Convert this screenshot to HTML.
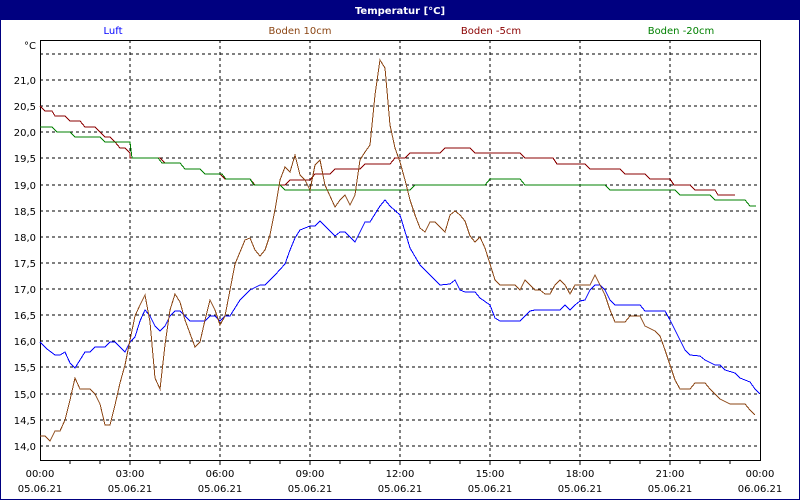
<!DOCTYPE html>
<html><head><meta charset="utf-8"><style>
body{margin:0;background:#fff}
svg{display:block;font-family:"DejaVu Sans","Liberation Sans",sans-serif;font-size:10px}
</style></head><body>
<svg width="800" height="500" xmlns="http://www.w3.org/2000/svg">
<rect x="0" y="0" width="800" height="500" fill="#fff"/>
<rect x="0.5" y="0.5" width="799" height="499" fill="none" stroke="#000080"/>
<rect x="0" y="0" width="800" height="20" fill="#000080"/>
<text x="400" y="14" fill="#fff" font-weight="bold" text-anchor="middle">Temperatur [°C]</text>
<g text-anchor="middle">
<text x="113" y="34" fill="#0000ff">Luft</text>
<text x="300" y="34" fill="#8b4513">Boden 10cm</text>
<text x="491" y="34" fill="#8b0000">Boden -5cm</text>
<text x="681" y="34" fill="#008000">Boden -20cm</text>
</g>
<g stroke="#000" stroke-dasharray="3,3" shape-rendering="crispEdges">
<line x1="40" x2="760" y1="54" y2="54"/><line x1="40" x2="760" y1="80" y2="80"/><line x1="40" x2="760" y1="106" y2="106"/><line x1="40" x2="760" y1="132" y2="132"/><line x1="40" x2="760" y1="158" y2="158"/><line x1="40" x2="760" y1="185" y2="185"/><line x1="40" x2="760" y1="211" y2="211"/><line x1="40" x2="760" y1="237" y2="237"/><line x1="40" x2="760" y1="263" y2="263"/><line x1="40" x2="760" y1="289" y2="289"/><line x1="40" x2="760" y1="315" y2="315"/><line x1="40" x2="760" y1="341" y2="341"/><line x1="40" x2="760" y1="367" y2="367"/><line x1="40" x2="760" y1="394" y2="394"/><line x1="40" x2="760" y1="420" y2="420"/><line x1="40" x2="760" y1="446" y2="446"/>
<line x1="130" x2="130" y1="40" y2="460"/><line x1="220" x2="220" y1="40" y2="460"/><line x1="310" x2="310" y1="40" y2="460"/><line x1="400" x2="400" y1="40" y2="460"/><line x1="490" x2="490" y1="40" y2="460"/><line x1="580" x2="580" y1="40" y2="460"/><line x1="670" x2="670" y1="40" y2="460"/>
</g>
<rect x="40.5" y="40.5" width="720" height="420" fill="none" stroke="#000" shape-rendering="crispEdges"/>
<g stroke="#000" shape-rendering="crispEdges">
<line x1="70" x2="70" y1="460" y2="464"/><line x1="100" x2="100" y1="460" y2="464"/><line x1="130" x2="130" y1="460" y2="465"/><line x1="160" x2="160" y1="460" y2="464"/><line x1="190" x2="190" y1="460" y2="464"/><line x1="220" x2="220" y1="460" y2="465"/><line x1="250" x2="250" y1="460" y2="464"/><line x1="280" x2="280" y1="460" y2="464"/><line x1="310" x2="310" y1="460" y2="465"/><line x1="340" x2="340" y1="460" y2="464"/><line x1="370" x2="370" y1="460" y2="464"/><line x1="400" x2="400" y1="460" y2="465"/><line x1="430" x2="430" y1="460" y2="464"/><line x1="460" x2="460" y1="460" y2="464"/><line x1="490" x2="490" y1="460" y2="465"/><line x1="520" x2="520" y1="460" y2="464"/><line x1="550" x2="550" y1="460" y2="464"/><line x1="580" x2="580" y1="460" y2="465"/><line x1="610" x2="610" y1="460" y2="464"/><line x1="640" x2="640" y1="460" y2="464"/><line x1="670" x2="670" y1="460" y2="465"/><line x1="700" x2="700" y1="460" y2="464"/><line x1="730" x2="730" y1="460" y2="464"/>
</g>
<g text-anchor="end">
<text x="36" y="49">°C</text>
<text x="36" y="84">21,0</text><text x="36" y="110">20,5</text><text x="36" y="136">20,0</text><text x="36" y="162">19,5</text><text x="36" y="189">19,0</text><text x="36" y="215">18,5</text><text x="36" y="241">18,0</text><text x="36" y="267">17,5</text><text x="36" y="293">17,0</text><text x="36" y="319">16,5</text><text x="36" y="345">16,0</text><text x="36" y="371">15,5</text><text x="36" y="398">15,0</text><text x="36" y="424">14,5</text><text x="36" y="450">14,0</text>
</g>
<g text-anchor="middle">
<text x="40" y="477">00:00</text><text x="130" y="477">03:00</text><text x="220" y="477">06:00</text><text x="310" y="477">09:00</text><text x="400" y="477">12:00</text><text x="490" y="477">15:00</text><text x="580" y="477">18:00</text><text x="670" y="477">21:00</text><text x="760" y="477">00:00</text>
<text x="40" y="492">05.06.21</text><text x="130" y="492">05.06.21</text><text x="220" y="492">05.06.21</text><text x="310" y="492">05.06.21</text><text x="400" y="492">05.06.21</text><text x="490" y="492">05.06.21</text><text x="580" y="492">05.06.21</text><text x="670" y="492">05.06.21</text><text x="760" y="492">06.06.21</text>
</g>
<g fill="none" stroke-width="1" shape-rendering="crispEdges">
<polyline stroke="#8b0000" points="40,106 45,111 52,111 55,116 65,116 70,121 80,121 85,127 95,127 100,132 105,137 110,137 115,142 120,148 125,148 130,153 130,158 160,158 165,163 180,163 185,169 200,169 205,174 220,174 225,179 250,179 255,185 280,185 285,185 290,180 310,180 315,174 330,174 335,169 360,169 365,164 390,164 395,158 405,158 410,153 440,153 445,148 470,148 475,153 520,153 525,158 553,158 557,164 585,164 590,169 620,169 625,174 645,174 650,179 670,179 674,185 690,185 695,190 715,190 718,195 735,195"/>
<polyline stroke="#008000" points="40,127 52,127 57,132 70,132 75,137 100,137 105,142 130,142 132,158 158,158 162,163 180,163 185,169 200,169 205,174 222,174 226,179 250,179 254,185 280,185 285,190 410,190 415,185 485,185 490,179 520,179 525,185 605,185 610,190 675,190 680,195 710,195 715,200 745,200 750,206 756,206"/>
<polyline stroke="#0000ff" points="40,342 47,349 55,355 60,355 65,352 70,363 75,368 80,360 85,352 90,352 95,347 105,347 110,342 115,342 120,347 125,352 130,342 135,337 140,321 145,310 150,316 155,326 160,331 165,326 170,316 175,311 180,311 185,316 190,321 205,321 210,316 215,316 220,321 225,316 230,316 240,300 250,290 260,285 265,285 275,275 285,264 290,250 295,238 300,230 310,226 315,226 320,221 325,226 335,236 340,232 345,232 355,242 365,222 370,222 380,206 385,200 390,206 400,215 410,248 420,265 430,275 440,285 450,284 455,280 460,290 465,292 475,292 480,298 490,305 495,318 500,321 520,321 525,316 530,311 535,310 560,310 565,305 570,310 575,305 580,301 585,300 590,290 595,285 600,285 605,290 610,300 615,305 640,305 645,311 665,311 670,320 675,330 680,340 685,350 690,355 700,356 705,360 715,365 720,365 725,370 735,373 740,378 750,382 755,389 760,394"/>
<polyline stroke="#8b4513" points="40,436 45,436 50,441 55,431 60,431 65,420 70,400 75,378 80,389 90,389 95,394 100,404 105,425 110,425 115,405 120,383 125,365 130,340 135,316 140,305 145,295 150,322 155,378 160,389 165,345 170,310 175,294 180,302 185,320 195,347 200,342 205,320 210,300 215,310 220,325 225,316 230,290 235,264 240,252 245,240 250,238 255,250 260,256 265,250 270,235 275,210 280,180 285,167 290,172 295,155 300,175 305,180 310,190 315,165 320,160 325,185 335,207 340,200 345,195 350,205 355,195 360,160 365,152 370,145 375,95 380,60 385,68 390,125 395,148 400,162 405,180 410,200 415,215 420,228 425,232 430,222 435,222 440,227 445,232 450,215 455,211 460,215 465,221 470,236 475,242 480,237 485,248 490,264 495,280 500,285 515,285 520,290 525,280 530,285 535,290 540,290 545,294 550,294 555,285 560,280 565,285 570,294 575,285 590,285 595,275 600,285 605,295 610,310 615,322 625,322 630,316 640,316 645,326 655,331 660,336 665,350 670,365 675,380 680,389 690,389 695,383 705,383 710,389 715,394 720,399 730,404 745,404 750,410 755,415"/>
</g>
</svg>
</body></html>
